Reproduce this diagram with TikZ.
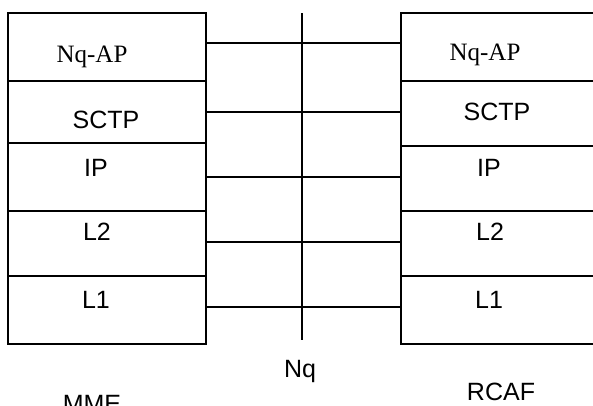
\documentclass[tikz,border=0pt]{standalone}
\usepackage{fontspec}
\setmainfont{Liberation Serif}
\setsansfont{Liberation Sans}
\usepackage{tikz}

\tikzset{
  layer/.style={draw, line width=1.6pt, minimum width=198pt, inner sep=0pt},
  lbl/.style={font=\fontsize{25}{30}\selectfont\sffamily, anchor=base, inner sep=0pt},
  serlbl/.style={font=\fontsize{25}{30}\selectfont\rmfamily, anchor=base, inner sep=0pt},
  link/.style={line width=1.6pt}
}

\begin{document}
\begin{tikzpicture}[x=1pt,y=-1pt]
      \useasboundingbox (0,0) rectangle (593,405);
      \clip (0,0) rectangle (593,405);
      % MME stack
      \node[layer, minimum height=68pt] (mmeap) at (107,47) {};
      \node[layer, minimum height=62pt] (mmesctp) at (107,112) {};
      \node[layer, minimum height=68pt] (mmeip) at (107,177) {};
      \node[layer, minimum height=65pt] (mmeltwo) at (107,243.5) {};
      \node[layer, minimum height=68pt] (mmelone) at (107,310) {};
      % RCAF stack
      \node[layer, minimum height=68pt] (rcafap) at (500,47) {};
      \node[layer, minimum height=65pt] (rcafsctp) at (500,113.5) {};
      \node[layer, minimum height=65pt] (rcafip) at (500,178.5) {};
      \node[layer, minimum height=65pt] (rcafltwo) at (500,243.5) {};
      \node[layer, minimum height=68pt] (rcaflone) at (500,310) {};
      % layer names
      \node[serlbl] (mmeaptxt) at (92,62) {Nq-AP};
      \node[lbl] (mmesctptxt) at (106,128) {SCTP};
      \node[lbl] (mmeiptxt) at (96,176) {IP};
      \node[lbl] (mmeltwotxt) at (97,240) {L2};
      \node[lbl] (mmelonetxt) at (96,308) {L1};
      \node[serlbl] (rcafaptxt) at (485,60) {Nq-AP};
      \node[lbl] (rcafsctptxt) at (497,120) {SCTP};
      \node[lbl] (rcafiptxt) at (489,176) {IP};
      \node[lbl] (rcafltwotxt) at (490,240) {L2};
      \node[lbl] (rcaflonetxt) at (489,308) {L1};
      % interface
      \coordinate (nqtop) at (302,13);
      \coordinate (nqbot) at (302,340);
      \draw[link] (nqtop) -- (nqbot);
      \node[lbl] (nq) at (300,377) {Nq};
      \node[lbl] (mme) at (92,412) {MME};
      \node[lbl] (rcaf) at (501,400) {RCAF};
      \foreach \a/\s in {ap/4, sctp/0, ip/0, ltwo/1.5, lone/3}
        \draw[link] ([yshift=\s pt]mme\a.east) -- ([yshift=\s pt]mme\a.east -| rcaf\a.west);
    \end{tikzpicture}
\end{document}
